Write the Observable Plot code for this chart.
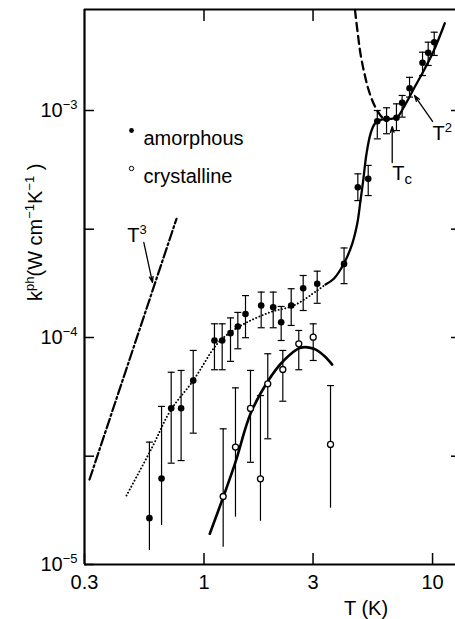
<!DOCTYPE html>
<html>
<head>
<meta charset="utf-8">
<script src="https://cdn.jsdelivr.net/npm/d3@7"></script>
<script src="https://cdn.jsdelivr.net/npm/@observablehq/plot@0.6"></script>
<style>
  html, body { margin: 0; padding: 0; background: white; }
</style>
</head>
<body>
<div id="chart"></div>
<script>
// ---- axes ----
const xDomain = [0.3, 12.6];
const yDomain = [1e-5, 2.786e-3];
const xTickValues = [0.3, 1, 3, 10];
const xTickLabels = ["0.3", "1", "3", "10"];
const topTickValues = [1, 3];
const yTickValues = [1e-5, 3e-5, 1e-4, 3e-4, 1e-3];
const yTickLabels = ["10^{−5}", "", "10^{−4}", "", "10^{−3}"];
const rightTickValues = [3e-5, 1e-4, 3e-4, 1e-3];
const xLabel = "T (K)";
const yLabel = "k^{ph}(W cm^{−1}K^{−1} )";

// ---- amorphous data ----
const amT  = [0.577, 0.652, 0.7185, 0.794, 0.897, 1.111, 1.201, 1.306, 1.406, 1.519, 1.779, 2.008, 2.176, 2.407, 2.716, 3.128, 4.10, 4.71, 5.23, 5.73, 6.29, 6.95, 7.36, 7.93, 9.04, 9.57, 10.17];
const amK  = [1.60e-5, 2.39e-5, 4.88e-5, 4.88e-5, 6.46e-5, 9.70e-5, 9.70e-5, 1.045e-4, 1.118e-4, 1.27e-4, 1.383e-4, 1.36e-4, 1.167e-4, 1.383e-4, 1.649e-4, 1.724e-4, 2.11e-4, 4.59e-4, 5.0e-4, 8.97e-4, 9.19e-4, 9.29e-4, 1.081e-3, 1.254e-3, 1.623e-3, 1.795e-3, 2.0e-3];
const amHi = [3.46e-5, 4.97e-5, 7.03e-5, 7.16e-5, 8.77e-5, 1.149e-4, 1.149e-4, 1.22e-4, 1.29e-4, 1.53e-4, 1.585e-4, 1.585e-4, 1.37e-4, 1.64e-4, 1.876e-4, 1.96e-4, 2.48e-4, 5.26e-4, 5.73e-4, 1.0e-3, 1.028e-3, 1.07e-3, 1.165e-3, 1.40e-3, 1.807e-3, 2.0e-3, 2.213e-3];
const amLo = [1.153e-5, 1.486e-5, 2.795e-5, 2.87e-5, 3.79e-5, 7.21e-5, 7.21e-5, 7.85e-5, 8.92e-5, 9.98e-5, 1.104e-4, 1.104e-4, 9.7e-5, 1.13e-4, 1.315e-4, 1.415e-4, 1.727e-4, 4.01e-4, 4.22e-4, 7.5e-4, 7.9e-4, 8.16e-4, 9.35e-4, 1.146e-3, 1.426e-3, 1.579e-3, 1.748e-3];
const amCapLo = [false, false, true, true, true, true, true, true, true, true, true, true, true, true, true, true, true, true, true, true, true, true, true, true, true, true, true];

// ---- crystalline data ----
const crT  = [1.213, 1.373, 1.597, 1.766, 1.901, 2.212, 2.598, 3.005, 3.577];
const crK  = [1.993e-5, 3.29e-5, 4.87e-5, 2.385e-5, 6.25e-5, 7.23e-5, 9.38e-5, 1.003e-4, 3.38e-5];
const crHi = [3.96e-5, 6.0e-5, 7.16e-5, 5.55e-5, 8.48e-5, 8.77e-5, 1.074e-4, 1.149e-4, 6.14e-5];
const crLo = [1.19e-5, 1.616e-5, 2.82e-5, 1.55e-5, 3.58e-5, 5.24e-5, 7.21e-5, 7.92e-5, 1.77e-5];
const crCapLo = [false, false, true, false, true, true, true, true, false];

// ---- curves ----
const dottedT = [0.458, 0.5934, 0.7136, 0.897, 1.142, 1.306, 1.545, 1.954, 2.471, 3.128, 3.401];
const dottedK = [2.014e-5, 3.287e-5, 4.77e-5, 6.46e-5, 9.38e-5, 1.055e-4, 1.168e-4, 1.293e-4, 1.384e-4, 1.611e-4, 1.712e-4];
const amFitT = [3.401, 3.698, 4.089, 4.451, 4.681, 4.839, 4.972, 5.140, 5.351, 5.588, 5.918, 6.546, 7.003, 7.484, 8.277, 9.157, 10.13, 11.31];
const amFitK = [1.712e-4, 1.814e-4, 2.112e-4, 2.587e-4, 3.169e-4, 4.014e-4, 4.916e-4, 6.446e-4, 7.897e-4, 8.74e-4, 9.10e-4, 9.19e-4, 9.345e-4, 1.034e-3, 1.247e-3, 1.50e-3, 1.838e-3, 2.424e-3];
const dashedT = [4.577, 4.709, 4.839, 5.037, 5.26, 5.571, 5.918, 6.163];
const dashedK = [2.772e-3, 2.178e-3, 1.777e-3, 1.451e-3, 1.225e-3, 1.052e-3, 9.51e-4, 9.13e-4];
const crFitT = [1.060, 1.221, 1.373, 1.597, 1.890, 2.234, 2.644, 3.023, 3.343, 3.638];
const crFitK = [1.366e-5, 2.014e-5, 2.823e-5, 4.612e-5, 6.355e-5, 7.92e-5, 9.01e-5, 8.92e-5, 8.33e-5, 7.60e-5];
const t3T = [0.3155, 0.758];
const t3K = [2.368e-5, 3.334e-4];

// ---- annotations ----
const annLabels = ["T^{3}", "T^{2}", "T_{c}"];
const annT = [0.4612, 9.99, 6.66];
const annK = [2.814e-4, 7.90e-4, 5.25e-4];
const arrowT1 = [0.5452, 10.0, 6.66];
const arrowK1 = [2.622e-4, 8.95e-4, 5.90e-4];
const arrowT2 = [0.5951, 8.34, 6.66];
const arrowK2 = [1.748e-4, 1.164e-3, 8.50e-4];
const legendLabels = ["amorphous", "crystalline"];

// ---- tables ----
const am = amT.map((T, i) => ({T, k: amK[i], hi: amHi[i], lo: amLo[i], capLo: amCapLo[i]}));
const cr = crT.map((T, i) => ({T, k: crK[i], hi: crHi[i], lo: crLo[i], capLo: crCapLo[i]}));
const pts = (X, Y) => X.map((T, i) => ({T, k: Y[i]}));
const ann = annLabels.map((label, i) => ({label, T: annT[i], k: annK[i]}));
const arrows = arrowT1.map((T1, i) => ({T1, k1: arrowK1[i], T2: arrowT2[i], k2: arrowK2[i]}));
const xTicks = xTickValues.map((T, i) => ({T, label: xTickLabels[i]}));

const capSymbol = {
  draw(ctx, size) {
    const w = Math.sqrt(size / Math.PI);
    ctx.moveTo(-w, 0);
    ctx.lineTo(w, 0);
  }
};

const chart = Plot.plot({
  width: 455,
  height: 619,
  marginLeft: 84,
  marginRight: 0,
  marginTop: 9,
  marginBottom: 55,
  style: {background: "white", fontFamily: "'Liberation Sans', Arial, sans-serif", fontSize: "20px", color: "black", overflow: "visible"},
  x: {type: "log", domain: xDomain},
  y: {type: "log", domain: yDomain},
  marks: [
    // frame
    Plot.ruleX([xDomain[0]], {strokeWidth: 2.2}),
    Plot.ruleY([yDomain[0]], {strokeWidth: 2.2}),
    Plot.ruleY([yDomain[1]], {strokeWidth: 2.2}),
    // axes (inward ticks)
    Plot.axisX(xTickValues, {anchor: "bottom", tickSize: -11, strokeWidth: 1.5, fill: "none", label: null}),
    Plot.text(xTicks, {x: "T", text: "label", frameAnchor: "bottom", dy: 24}),
    Plot.axisX(topTickValues, {anchor: "top", tickSize: -11, strokeWidth: 1.5, fill: "none", label: null}),
    Plot.axisY(yTickValues, {anchor: "left", tickSize: -10, tickPadding: 17, strokeWidth: 1.5, label: null,
      tickFormat: d => yTickLabels[yTickValues.indexOf(d)]}),
    Plot.axisY(rightTickValues, {anchor: "right", tickSize: -5, strokeWidth: 1.5, fill: "none", label: null}),
    // axis titles
    Plot.text([xLabel], {text: d => d, frameAnchor: "bottom", dx: 96, dy: 50}),
    Plot.text([yLabel], {text: d => d, frameAnchor: "left", rotate: -90, textAnchor: "start", dx: -49, dy: 14}),
    // curves
    Plot.line(pts(t3T, t3K), {x: "T", y: "k", strokeWidth: 2.2, strokeDasharray: "10,3,2,3"}),
    Plot.line(pts(dottedT, dottedK), {x: "T", y: "k", curve: "catmull-rom", strokeWidth: 1.9, strokeLinecap: "round", strokeDasharray: "0.1,3.3"}),
    Plot.line(pts(amFitT, amFitK), {x: "T", y: "k", curve: "catmull-rom", strokeWidth: 2.3}),
    Plot.line(pts(dashedT, dashedK), {x: "T", y: "k", curve: "catmull-rom", strokeWidth: 2.3, strokeDasharray: "8,5"}),
    Plot.line(pts(crFitT, crFitK), {x: "T", y: "k", curve: "catmull-rom", strokeWidth: 2.6}),
    // error bars
    Plot.ruleX(am, {x: "T", y1: "lo", y2: "hi", strokeWidth: 1.2}),
    Plot.ruleX(cr, {x: "T", y1: "lo", y2: "hi", strokeWidth: 1.2}),
    Plot.dot(am, {x: "T", y: "hi", symbol: capSymbol, r: 3.5, stroke: "black", strokeWidth: 1.2}),
    Plot.dot(am.filter(d => d.capLo), {x: "T", y: "lo", symbol: capSymbol, r: 3.5, stroke: "black", strokeWidth: 1.2}),
    Plot.dot(cr, {x: "T", y: "hi", symbol: capSymbol, r: 3.5, stroke: "black", strokeWidth: 1.2}),
    Plot.dot(cr.filter(d => d.capLo), {x: "T", y: "lo", symbol: capSymbol, r: 3.5, stroke: "black", strokeWidth: 1.2}),
    // data points
    Plot.dot(am, {x: "T", y: "k", r: 3.3, fill: "black", stroke: "none"}),
    Plot.dot(cr, {x: "T", y: "k", r: 3, fill: "white", stroke: "black", strokeWidth: 1.3}),
    // annotations
    Plot.arrow(arrows, {x1: "T1", y1: "k1", x2: "T2", y2: "k2", strokeWidth: 1.3, headLength: 7, headAngle: 35}),
    Plot.text(ann, {x: "T", y: "k", text: "label", textAnchor: "start"}),
    // legend
    Plot.dot([legendLabels[0]], {frameAnchor: "top-left", dx: 47, dy: 121, r: 2.4, fill: "black", stroke: "none"}),
    Plot.dot([legendLabels[1]], {frameAnchor: "top-left", dx: 47, dy: 159, r: 2.2, fill: "white", stroke: "black", strokeWidth: 1}),
    Plot.text([legendLabels[0]], {text: d => d, frameAnchor: "top-left", textAnchor: "start", dx: 59, dy: 121}),
    Plot.text([legendLabels[1]], {text: d => d, frameAnchor: "top-left", textAnchor: "start", dx: 59, dy: 159})
  ]
});

// rich text: ^{...} superscripts, _{...} subscripts
function richText(svg) {
  const NS = "http://www.w3.org/2000/svg";
  for (const t of svg.querySelectorAll("text")) {
    const s = t.textContent;
    if (!/[\^_]\{/.test(s)) continue;
    while (t.firstChild) t.removeChild(t.firstChild);
    const re = /([\^_])\{([^}]*)\}|([^\^_]+)/g;
    let m, shift = 0;
    while ((m = re.exec(s))) {
      const ts = document.createElementNS(NS, "tspan");
      let target = 0, size = null;
      if (m[1] === "^") { target = -8; size = "13px"; ts.textContent = m[2]; }
      else if (m[1] === "_") { target = 4; size = "15px"; ts.textContent = m[2]; }
      else ts.textContent = m[3];
      const dy = target - shift;
      if (dy) ts.setAttribute("dy", dy);
      shift = target;
      if (size) ts.setAttribute("font-size", size);
      t.appendChild(ts);
    }
  }
}
richText(chart);
document.getElementById("chart").appendChild(chart);
</script>
</body>
</html>
